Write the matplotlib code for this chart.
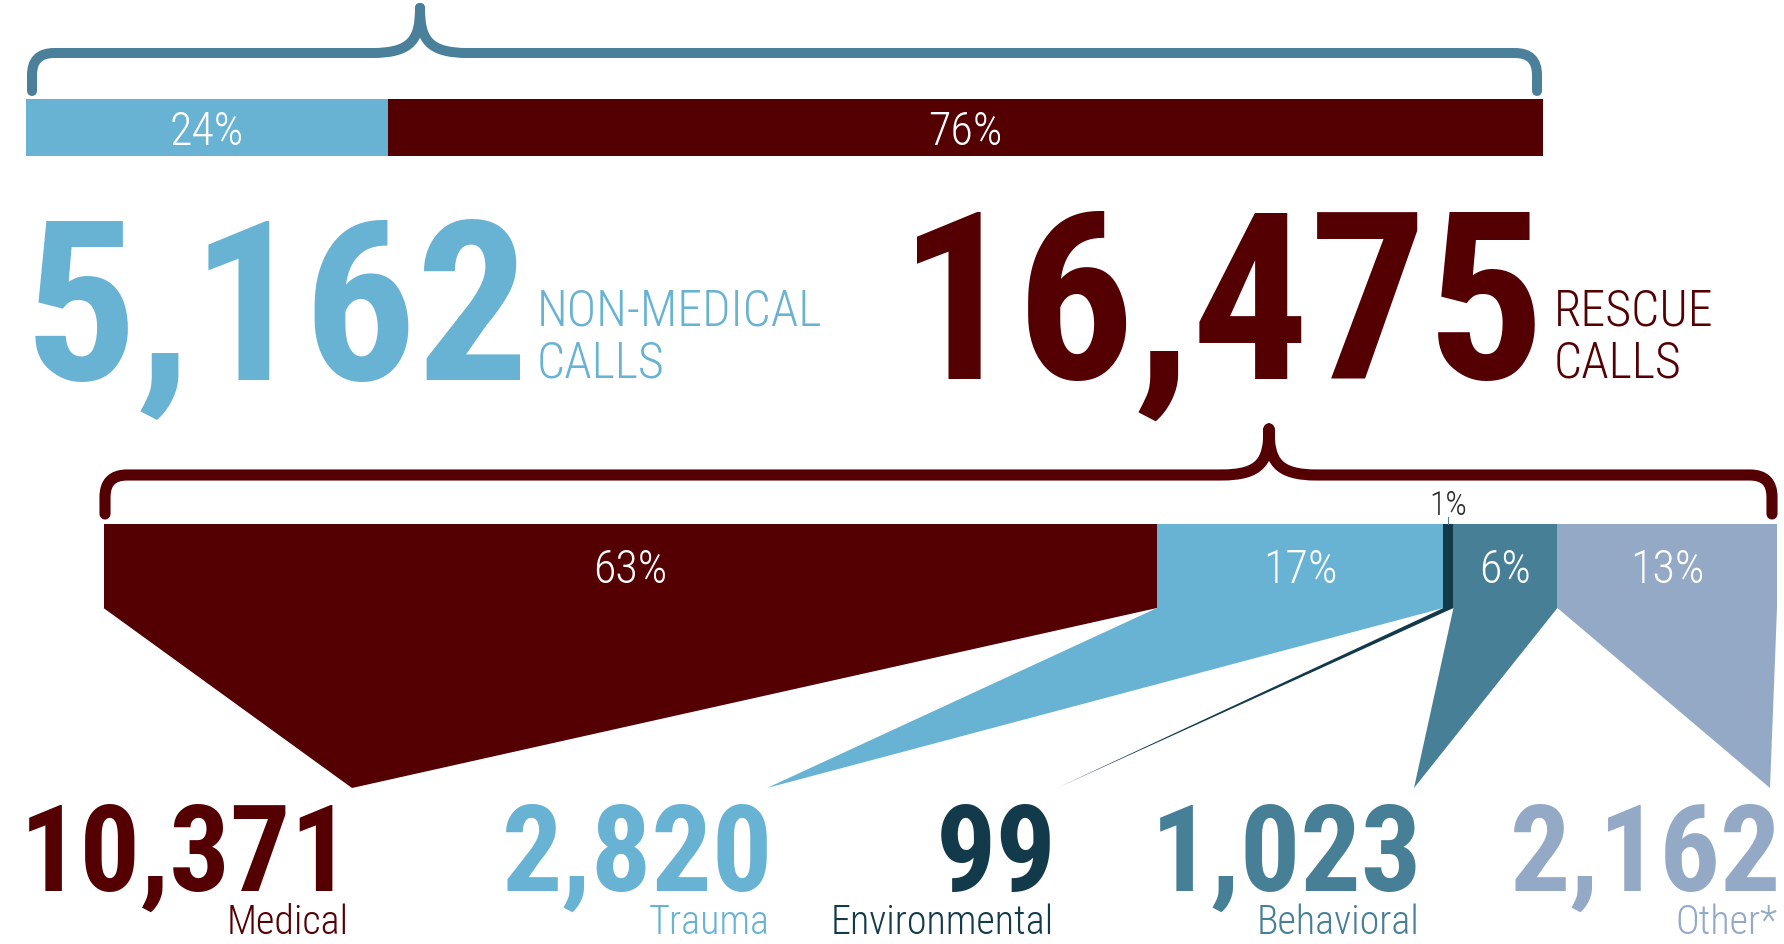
import matplotlib
matplotlib.use('Agg')
import matplotlib.pyplot as plt
from matplotlib import font_manager
from matplotlib.path import Path
from matplotlib.patches import PathPatch, Polygon

# ---------------------------------- DATA -----------------------------------------
top_names = ['NON-MEDICAL\nCALLS', 'RESCUE\nCALLS']
top_counts = [5162, 16475]

rescue_names = ['Medical', 'Trauma', 'Environmental', 'Behavioral', 'Other*']
rescue_counts = [10371, 2820, 99, 1023, 2162]

# ---------------------------------- STYLE -----------------------------------------
LIGHT_BLUE = '#68b2d3'
DARK_RED = '#540003'
STEEL = '#4a8099'
top_colors = [LIGHT_BLUE, DARK_RED]
rescue_colors = [DARK_RED, LIGHT_BLUE, '#123a4a', '#477f97', '#93a9c6']

W, H, DPI = 1784, 944, 100

installed = {f.name for f in font_manager.fontManager.ttflist}
FONT = 'DejaVu Sans'
for cand in ['Liberation Sans Narrow', 'Roboto Condensed', 'Open Sans Condensed', 'Roboto', 'Liberation Sans']:
    if cand in installed:
        FONT = cand
        break
THIN = 'light'

fig = plt.figure(figsize=(W / DPI, H / DPI), dpi=DPI)
ax = fig.add_axes([0, 0, 1, 1])
ax.set_xlim(0, W)
ax.set_ylim(H, 0)
ax.axis('off')
renderer = fig.canvas.get_renderer()


def size_for(s, cap_px, max_w, weight):
    # font size from cap height, shrunk if the string gets too wide
    size = cap_px / 0.716 * 72 / DPI
    t = ax.text(0, 0, s, fontsize=size, fontweight=weight, family=FONT)
    w = t.get_window_extent(renderer).width
    t.remove()
    if w > max_w:
        size *= max_w / w
    return size


def brace(x0, x1, xc, y_line, y_tip, y_top, color, lw):
    r = 22
    rc = 48
    verts = [(x0, y_tip), (x0, y_line + r), (x0, y_line), (x0 + r, y_line),
             (xc - rc, y_line), (xc - 8, y_line), (xc, y_line - 14), (xc, y_top),
             (xc, y_top), (xc, y_line - 14), (xc + 8, y_line), (xc + rc, y_line),
             (x1 - r, y_line), (x1, y_line), (x1, y_line + r), (x1, y_tip)]
    codes = [Path.MOVETO, Path.LINETO, Path.CURVE3, Path.CURVE3,
             Path.LINETO, Path.CURVE4, Path.CURVE4, Path.CURVE4,
             Path.MOVETO, Path.CURVE4, Path.CURVE4, Path.CURVE4,
             Path.LINETO, Path.CURVE3, Path.CURVE3, Path.LINETO]
    ax.add_patch(PathPatch(Path(verts, codes), fill=False, edgecolor=color,
                           lw=lw, capstyle='round', joinstyle='round'))


# ---------------------------------- TOP BAR -----------------------------------------
top_total = sum(top_counts)
bx0, bx1, by0, by1 = 26, 1543, 99, 156
scale = (bx1 - bx0) / top_total
lefts, acc = [], 0
for c in top_counts:
    lefts.append(bx0 + acc * scale)
    acc += c
widths = [c * scale for c in top_counts]
ax.barh((by0 + by1) / 2, widths, left=lefts, height=by1 - by0, color=top_colors, linewidth=0)

pct_size = size_for('24%', 33, 999, THIN)
for l, w, c in zip(lefts, widths, top_counts):
    ax.text(l + w / 2, by1 - 11, f'{round(100 * c / top_total)}%', color='white',
            fontsize=pct_size, fontweight=THIN, family=FONT, ha='center', va='baseline')

brace(32, 1537, 420, 53, 91, 8, STEEL, 7.2)

# big totals
big_right = [529, 1545]
big_width = [505, 646]
lab_left = [537, 1554]
lsz = size_for('NON-MEDICAL', 38, 285, THIN)
for name, c, col, xr, bw, xl in zip(top_names, top_counts, top_colors, big_right, big_width, lab_left):
    s = f'{c:,}'
    sz = size_for(s, 177, bw, 'bold')
    ax.text(xr, 379, s, color=col, fontsize=sz, fontweight='bold', family=FONT,
            ha='right', va='baseline')
    for i, line in enumerate(name.split('\n')):
        ax.text(xl, 325 + 52 * i, line, color=col, fontsize=lsz, fontweight=THIN,
                family=FONT, ha='left', va='baseline')

# ---------------------------------- RESCUE BREAKDOWN ---------------------------------
rescue_total = sum(rescue_counts)
rx0, rx1, ry0, ry1 = 103.5, 1777, 524, 608
rscale = (rx1 - rx0) / rescue_total
rlefts, acc = [], 0
for c in rescue_counts:
    rlefts.append(rx0 + acc * rscale)
    acc += c
rwidths = [c * rscale for c in rescue_counts]
ax.barh((ry0 + ry1) / 2, rwidths, left=rlefts, height=ry1 - ry0, color=rescue_colors, linewidth=0)

brace(105, 1772, 1269, 475, 514, 429, DARK_RED, 8.0)

num_right = [352, 773, 1057, 1422, 1781]
apex_x = [352, 767, 1057, 1414, 1770]
apex_y = 788

num_size = size_for('10,371', 98, 332, 'bold')
lab_size = size_for('Medical', 33, 122, THIN)
for name, c, col, l, w, xr, xa in zip(rescue_names, rescue_counts, rescue_colors,
                                      rlefts, rwidths, num_right, apex_x):
    ax.add_patch(Polygon([(l, ry1), (l + w, ry1), (xa, apex_y)], closed=True,
                         facecolor=col, edgecolor='none'))
    pct = f'{round(100 * c / rescue_total)}%'
    if w > 40:
        ax.text(l + w / 2, 583, pct, color='white', fontsize=pct_size, fontweight=THIN,
                family=FONT, ha='center', va='baseline')
    else:
        ax.plot([l + w / 2, l + w / 2], [517, ry0], color=STEEL, lw=0.8)
        ax.text(l + w / 2, 515, pct, color='#2b2b2b', fontsize=pct_size * 0.73,
                fontweight=THIN, family=FONT, ha='center', va='baseline')
    ax.text(xr, 891, f'{c:,}', color=col, fontsize=num_size, fontweight='bold',
            family=FONT, ha='right', va='baseline')
    ax.text(xr - 3, 934, name, color=col, fontsize=lab_size, fontweight=THIN,
            family=FONT, ha='right', va='baseline')

fig.savefig('out.png', dpi=DPI, facecolor='white')
